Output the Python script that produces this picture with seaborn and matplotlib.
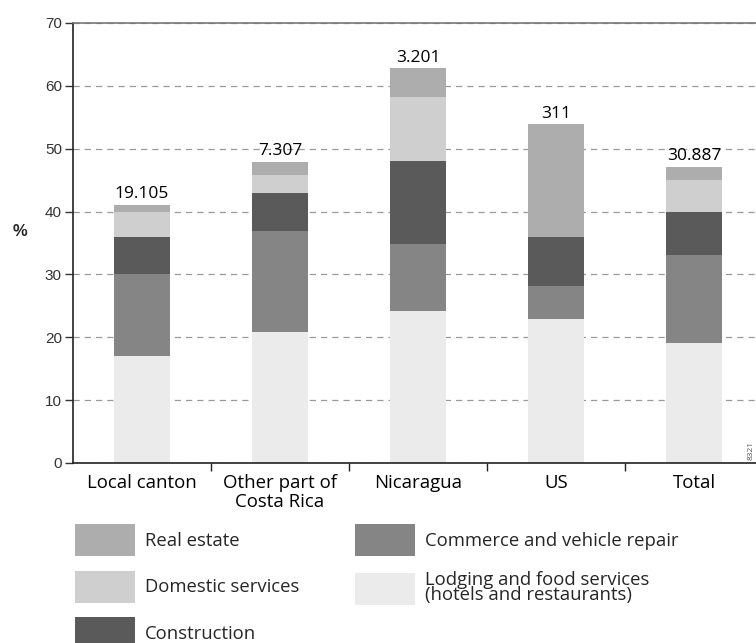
import numpy as np
import pandas as pd
import matplotlib
matplotlib.use("Agg")
import matplotlib.pyplot as plt
from matplotlib.patches import Patch
from matplotlib.ticker import FixedLocator
import seaborn as sns

categories = ["Local canton", "Other part of\nCosta Rica", "Nicaragua", "US", "Total"]
counts = ["19.105", "7.307", "3.201", "311", "30.887"]

lodging = [17.0, 20.8, 24.2, 22.9, 19.1]
commerce = [13.0, 16.1, 10.6, 5.2, 14.0]
construction = [6.0, 6.0, 13.2, 7.9, 6.8]
domestic = [4.0, 2.9, 10.2, 0.0, 5.1]
real_estate = [1.1, 2.1, 4.6, 17.9, 2.1]

series_names = ["Lodging and food services\n(hotels and restaurants)",
                "Commerce and vehicle repair", "Construction",
                "Domestic services", "Real estate"]
series_values = [lodging, commerce, construction, domestic, real_estate]
colors = {"Lodging and food services\n(hotels and restaurants)": "#ebebeb",
          "Commerce and vehicle repair": "#858585",
          "Construction": "#5a5a5a",
          "Domestic services": "#cfcfcf",
          "Real estate": "#adadad"}

sns.set_theme(style="white")
plt.rcParams["font.family"] = ["Open Sans", "DejaVu Sans"]

fig = plt.figure(figsize=(7.56, 6.43), dpi=100)
ax = fig.add_axes([73 / 756, 1 - 463 / 643, 690 / 756, 440 / 643])

cum = np.cumsum(np.array(series_values), axis=0)
df = pd.DataFrame({"origin": categories})
for i, name in enumerate(series_names):
    df[name] = cum[i]

# draw from top cumulative down so lower segments overlay
for i in range(len(series_names) - 1, -1, -1):
    name = series_names[i]
    sns.barplot(data=df, x="origin", y=name, order=categories, color=colors[name],
                saturation=1, width=0.405, errorbar=None, linewidth=0, ax=ax)

for i, c in enumerate(counts):
    ax.text(i, cum[-1][i] + 0.4, c, ha="center", va="bottom", fontsize=12.5, color="black")

ax.set_xlim(-0.5, 4.5)
ax.set_ylim(0, 70)
ax.set_yticks(np.arange(0, 71, 10))
ax.set_yticklabels([str(v) for v in range(0, 71, 10)], family="Liberation Sans",
                   fontsize=11, color="#333333")
ax.yaxis.grid(True, linestyle=(0, (5, 4)), color="#9a9a9a", linewidth=0.9)
ax.set_axisbelow(True)
ax.tick_params(axis="y", which="major", length=6, width=1, color="#333333", pad=2, left=True)
ax.tick_params(axis="x", which="major", length=0, pad=8, labelsize=13.4)
ax.xaxis.set_minor_locator(FixedLocator([0.5, 1.5, 2.5, 3.5]))
ax.tick_params(axis="x", which="minor", length=6, width=1, color="#222222", bottom=True)
ax.set_xlabel("")
ax.set_ylabel("")
for t in ax.get_xticklabels():
    t.set_linespacing(1.05)
    t.set_color("black")

for s in ["left", "bottom"]:
    ax.spines[s].set_color("#222222")
    ax.spines[s].set_linewidth(1.2)
ax.spines["top"].set_color("#777777")
ax.spines["top"].set_linewidth(1.2)
ax.spines["right"].set_visible(False)

fig.text(20 / 756, 1 - 232 / 643, "%", fontsize=12, fontweight="bold",
         ha="center", va="center", family="Liberation Sans")
fig.text(0.998, 1 - 450 / 643, "8321", rotation=90, fontsize=6, ha="right",
         va="center", color="#555555")

leg_kw = dict(frameon=False, handlelength=3.25, handleheight=2.3, handletextpad=0.55,
              labelspacing=0.78, fontsize=13.3, borderaxespad=0, borderpad=0)
h1 = [Patch(facecolor=colors[n], edgecolor="none") for n in
      ["Real estate", "Domestic services", "Construction"]]
l1 = ["Real estate", "Domestic services", "Construction"]
h2 = [Patch(facecolor=colors[n], edgecolor="none") for n in
      ["Commerce and vehicle repair", series_names[0]]]
l2 = ["Commerce and vehicle repair", series_names[0]]
leg1 = fig.legend(h1, l1, loc="upper left", bbox_to_anchor=(75 / 756, 1 - 524 / 643), **leg_kw)
leg2 = fig.legend(h2, l2, loc="upper left", bbox_to_anchor=(355 / 756, 1 - 524 / 643), **leg_kw)
for t in leg2.get_texts():
    t.set_linespacing(0.85)

fig.savefig("out.png", dpi=100)
